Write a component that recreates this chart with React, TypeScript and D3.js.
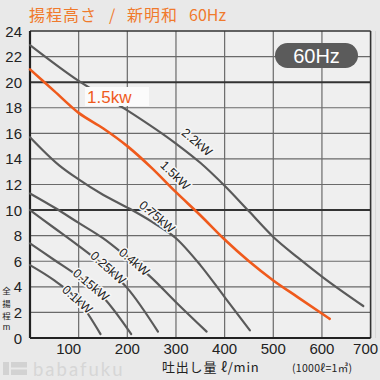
import React from 'react';
import * as d3 from 'd3';

const W = 380;
const H = 380;

const flowTicks = [100, 200, 300, 400, 500, 600, 700];
const headTicks = [0, 2, 4, 6, 8, 10, 12, 14, 16, 18, 20, 22, 24];
const gridFlows = [100, 200, 300, 400, 500, 600];
const gridHeads = [2, 4, 6, 8, 10, 12, 14, 16, 18, 20, 22];
const heavyHeads = [10, 20];

const flow22 = [0, 100, 200, 300, 350, 400, 450, 500, 550, 600, 685];
const head22 = [22.9, 20.1, 17.8, 15.2, 13.7, 11.9, 9.9, 7.9, 6.3, 4.8, 2.5];

const flow15 = [0, 50, 100, 150, 200, 250, 300, 350, 400, 450, 500, 550, 616];
const head15 = [21.0, 19.3, 17.6, 16.4, 15.0, 13.3, 11.4, 9.6, 7.7, 6.0, 4.5, 3.2, 1.5];

const flow075 = [0, 60, 100, 150, 205, 250, 300, 350, 400, 452];
const head075 = [15.7, 13.5, 12.4, 11.2, 10.1, 9.1, 7.8, 5.7, 3.2, 0.6];

const flow04 = [0, 50, 100, 150, 200, 250, 300, 363];
const head04 = [11.3, 10.2, 9.0, 7.8, 6.3, 4.7, 2.8, 0.5];

const flow025 = [0, 50, 100, 150, 200, 263];
const head025 = [10.0, 8.6, 7.2, 5.7, 3.9, 0.5];

const flow015 = [0, 50, 100, 150, 208];
const head015 = [7.4, 6.1, 4.8, 3.2, 0.3];

const flow01 = [0, 50, 100, 145];
const head01 = [5.7, 4.5, 2.9, 0.3];

const seriesNames = ['2.2kW', '1.5kW', '0.75kW', '0.4kW', '0.25kW', '0.15kW', '0.1kW'];
const seriesFlows = [flow22, flow15, flow075, flow04, flow025, flow015, flow01];
const seriesHeads = [head22, head15, head075, head04, head025, head015, head01];
const labelFlow = [343, 298, 261, 214, 160, 125, 97];
const labelHead = [15.3, 12.7, 9.46, 5.94, 5.47, 4.14, 3.0];
const labelAngle = [40, 44, 40, 40, 42, 40, 42];

const titleParts = ['揚程高さ', '/', '新明和', '60Hz'];
const titleX = [29, 109, 127, 189];
const badgeText = '60Hz';
const legendText = '1.5kw';
const xTitle = '吐出し量 ℓ/min';
const xNote = '(1000ℓ=1㎥)';
const yTitle = ['全', '揚', '程', 'm'];
const yTitleY = [290, 302.5, 315, 327];
const watermark = 'babafuku';

const ORANGE = '#ef5a1c';
const TITLE_ORANGE = '#f07a2c';
const GRAY = '#5a5a5a';
const SANS = '"Liberation Sans", Arial, sans-serif';
const CJK = '"Noto Sans CJK JP", "Noto Sans", sans-serif';

export default function App() {
  const x = d3.scaleLinear().domain([0, 700]).range([30, 370.6]);
  const y = d3.scaleLinear().domain([0, 24]).range([338, 31]);
  const line = d3
    .line<[number, number]>()
    .x((d) => x(d[0]))
    .y((d) => y(d[1]))
    .curve(d3.curveMonotoneX);

  const paths = seriesNames.map((name, i) => {
    const pts: [number, number][] = seriesFlows[i].map((f, j) => [f, seriesHeads[i][j]]);
    return { name, d: line(pts) || '', orange: name === '1.5kW' };
  });

  return (
    <svg
      width={W}
      height={H}
      style={{ position: 'absolute', left: 0, top: 0, background: '#e9e9e9' }}
    >
      <rect x={0} y={0} width={W} height={H} fill="#e9e9e9" />
      <rect x={x(0)} y={y(24)} width={x(700) - x(0)} height={y(0) - y(24)} fill="#efefef" />

      {/* title */}
      <text y={21} fill={TITLE_ORANGE} fontFamily={CJK} fontSize={16}>
        {titleParts.map((t, i) => (
          <tspan key={'t' + i} x={titleX[i]} letterSpacing={i === 3 ? 0 : 1}>
            {t}
          </tspan>
        ))}
      </text>

      {/* grid */}
      {gridFlows.map((f) => (
        <line key={'vf' + f} x1={x(f)} x2={x(f)} y1={y(24)} y2={y(0)} stroke="#6a6a6a" strokeWidth={1.2} />
      ))}
      {gridHeads.map((h) => (
        <line
          key={'gh' + h}
          x1={x(0)}
          x2={x(700)}
          y1={y(h)}
          y2={y(h)}
          stroke={heavyHeads.includes(h) ? '#333' : '#6a6a6a'}
          strokeWidth={heavyHeads.includes(h) ? 2 : 1.2}
        />
      ))}
      {/* frame */}
      <line x1={x(0)} x2={x(700)} y1={y(24)} y2={y(24)} stroke="#333" strokeWidth={1.6} />
      <line x1={x(700)} x2={x(700)} y1={y(24)} y2={y(0)} stroke="#333" strokeWidth={1.6} />
      <line x1={x(700) + 5} x2={x(700) + 5} y1={y(24)} y2={y(0)} stroke="#d8d8d8" strokeWidth={1} />
      <line x1={x(0)} x2={x(0)} y1={y(24)} y2={y(0)} stroke="#222" strokeWidth={2.2} />
      <line x1={x(0)} x2={x(700)} y1={y(0)} y2={y(0)} stroke="#222" strokeWidth={2.2} />

      {/* curves */}
      {paths.map((p) => (
        <path
          key={p.name}
          d={p.d}
          fill="none"
          stroke={p.orange ? ORANGE : GRAY}
          strokeWidth={p.orange ? 2.6 : 2.2}
          strokeLinecap="round"
        />
      ))}

      {/* curve labels */}
      {seriesNames.map((name, i) => (
        <text
          key={'lab' + name}
          transform={`translate(${x(labelFlow[i])},${y(labelHead[i])}) rotate(${labelAngle[i]})`}
          textAnchor="middle"
          dominantBaseline="central"
          fontFamily={SANS}
          fontSize={12.5}
          fill="#222"
          stroke="#f6f6f6"
          strokeWidth={3}
          paintOrder="stroke"
          strokeLinejoin="round"
        >
          {name}
        </text>
      ))}

      {/* legend box */}
      <rect x={85} y={87} width={64} height={19} fill="#fbfbfb" />
      <text x={87} y={103} fill={ORANGE} fontFamily={SANS} fontSize={17}>
        {legendText}
      </text>

      {/* 60Hz badge */}
      <rect x={275} y={43} width={83} height={25} rx={12.5} fill="#5b5b5b" />
      <text x={316.5} y={62.5} textAnchor="middle" fill="#fff" fontFamily={SANS} fontSize={20}>
        {badgeText}
      </text>

      {/* y ticks */}
      {headTicks.map((h) => (
        <text
          key={'yt' + h}
          x={22}
          y={y(h)}
          textAnchor="end"
          dominantBaseline="central"
          fontFamily={SANS}
          fontSize={15}
          fill="#222"
        >
          {h}
        </text>
      ))}
      {/* x ticks */}
      {flowTicks.map((f) => (
        <text
          key={'xt' + f}
          x={x(f) + (f === 100 ? -10 : f === 700 ? -5 : 0)}
          y={353.5}
          textAnchor="middle"
          fontFamily={SANS}
          fontSize={15}
          fill="#222"
        >
          {f}
        </text>
      ))}

      {/* y title */}
      <text fontFamily={CJK} fontSize={8.5} fill="#222" textAnchor="middle">
        {yTitle.map((c, i) => (
          <tspan
            key={'yc' + i}
            x={6.5}
            y={yTitleY[i]}
            dominantBaseline="central"
            fontSize={c === 'm' ? 9 : 8.5}
            fontFamily={c === 'm' ? SANS : CJK}
          >
            {c}
          </tspan>
        ))}
      </text>

      {/* x title */}
      <text x={162} y={372} fontFamily={CJK} fontSize={13} letterSpacing={0.8} fill="#222">
        {xTitle}
      </text>
      <text x={292} y={372} fontFamily={CJK} fontSize={10.5} letterSpacing={0.3} fill="#222">
        {xNote}
      </text>

      {/* watermark */}
      <rect x={3} y={362} width={6} height={13} fill="#d2d2d2" />
      <rect x={11} y={362} width={16} height={5.5} fill="#d2d2d2" />
      <rect x={11} y={369.5} width={16} height={5.5} fill="#d2d2d2" />
      <text x={33} y={375.5} fontFamily={'Lato, "Open Sans", sans-serif'} fontSize={18.5} letterSpacing={2} fill="#d6d6d6">
        {watermark}
      </text>
    </svg>
  );
}
